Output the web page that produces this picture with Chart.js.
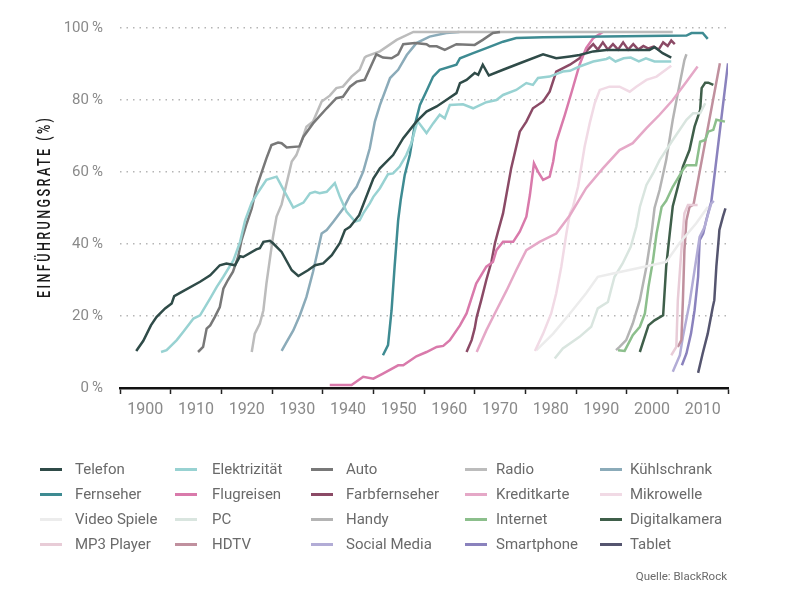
<!DOCTYPE html>
<html lang="de">
<head>
  <meta charset="UTF-8">
  <title>Einführungsrate neuer Technologien</title>
  <script src="https://cdn.jsdelivr.net/npm/chart.js"></script>
  <style>
    body { margin: 0; background: #fff; }
    #wrap { position: relative; width: 807px; height: 611px; font-family: Roboto, "Noto Sans", sans-serif; }
    #legend .sw { position: absolute; width: 22px; height: 3px; }
    #legend .lb { position: absolute; font-size: 15px; color: #6a6a6a; line-height: 18px; white-space: nowrap; }
    #source { position: absolute; right: 80px; top: 569px; font-size: 11.5px; color: #6a6a6a; }
  </style>
</head>
<body>
  <div id="wrap">
    <canvas id="chart" width="807" height="611"></canvas>
    <div id="legend"></div>
    <div id="source">Quelle: BlackRock</div>
  </div>

  <script>
    const telefon = [[1898.2,10.3],[1899.6,13.1],[1901.1,17.4],[1902.2,19.7],[1903.9,22.1],[1905.2,23.5],[1905.7,25.5],[1907.2,26.7],[1910.8,29.5],[1912.8,31.3],[1914.7,34.1],[1916.0,34.6],[1917.7,34.1],[1918.7,36.6],[1919.3,36.4],[1921.9,38.5],[1922.6,38.8],[1923.3,40.6],[1924.6,40.9],[1925.2,40.2],[1926.9,37.8],[1928.9,32.7],[1930.2,31.1],[1932.1,32.7],[1933.5,34.1],[1935.1,34.6],[1936.8,36.9],[1938.4,40.3],[1939.4,43.9],[1940.4,44.8],[1942.2,48.0],[1945.0,58.2],[1946.3,61.0],[1948.9,64.7],[1950.9,69.4],[1953.5,74.0],[1955.5,76.8],[1957.5,78.2],[1959.4,80.0],[1961.4,81.9],[1962.1,84.7],[1963.4,85.6],[1965.0,87.5],[1965.7,87.0],[1966.6,89.8],[1967.8,86.8],[1970.6,88.4],[1973.9,90.2],[1978.5,92.7],[1981.1,91.6],[1983.8,92.1],[1985.7,92.5],[1988.4,93.5],[1991.0,93.9],[1999.5,93.9],[2000.5,94.7],[2002.1,93.0],[2003.8,91.8]];
    const elektrizitaet = [[1903.1,10.0],[1904.2,10.5],[1906.2,13.3],[1907.5,15.6],[1909.5,19.3],[1910.8,20.2],[1912.8,24.9],[1914.1,28.1],[1915.4,30.9],[1917.4,35.5],[1918.7,40.6],[1919.7,46.6],[1921.0,51.5],[1921.9,53.6],[1923.9,57.8],[1925.9,58.7],[1927.5,54.5],[1929.2,50.1],[1931.2,51.5],[1932.5,54.1],[1933.5,54.5],[1934.4,54.1],[1935.8,54.5],[1937.4,56.9],[1938.4,53.1],[1939.7,49.0],[1941.4,46.2],[1942.3,46.6],[1943.0,48.5],[1944.3,51.3],[1945.0,53.1],[1946.3,55.5],[1947.9,59.4],[1948.9,59.6],[1950.2,61.5],[1951.5,64.7],[1952.5,68.0],[1953.5,73.1],[1953.8,74.0],[1955.5,70.8],[1956.8,73.5],[1958.1,75.9],[1959.1,74.9],[1960.1,78.6],[1962.7,78.8],[1964.7,77.7],[1967.3,79.4],[1969.3,80.0],[1970.6,81.4],[1973.2,82.8],[1975.2,84.7],[1976.5,84.2],[1977.5,86.1],[1979.8,86.5],[1982.4,87.9],[1983.8,88.1],[1985.7,89.3],[1988.4,90.7],[1991.0,91.4],[1991.6,91.8],[1992.8,90.7],[1994.4,91.6],[1995.8,91.8],[1997.4,90.7],[1998.8,91.6],[2000.5,90.7],[2003.8,90.7]];
    const auto = [[1910.4,10.0],[1911.4,11.4],[1912.1,16.5],[1912.8,17.4],[1913.7,19.7],[1914.7,22.5],[1915.4,27.6],[1916.3,30.0],[1917.3,32.3],[1918.3,36.4],[1919.0,41.1],[1920.0,45.7],[1921.0,49.9],[1921.9,55.5],[1923.9,63.8],[1924.9,67.5],[1926.2,68.2],[1926.9,68.0],[1927.9,66.8],[1930.4,67.1],[1931.2,69.8],[1933.1,73.5],[1935.8,77.7],[1937.7,80.5],[1939.0,80.9],[1940.4,83.7],[1941.7,85.1],[1943.3,85.6],[1945.6,92.7],[1946.9,91.8],[1948.6,91.6],[1949.9,92.7],[1950.9,95.5],[1953.2,95.8],[1955.5,95.5],[1956.1,94.9],[1957.5,94.9],[1959.1,93.9],[1961.4,95.5],[1965.0,95.3],[1966.6,96.7],[1968.6,98.6],[1970.0,98.9]];
    const radio = [[1921.0,10.0],[1921.6,15.1],[1922.6,17.9],[1923.3,21.6],[1923.9,29.0],[1924.6,36.0],[1925.2,42.0],[1925.9,47.6],[1926.9,51.0],[1928.9,62.9],[1929.8,64.7],[1930.8,68.4],[1931.8,72.6],[1933.1,74.0],[1934.8,79.6],[1936.4,81.2],[1937.7,83.3],[1939.0,83.7],[1940.7,86.5],[1942.3,88.4],[1943.3,91.8],[1943.6,92.1],[1946.3,93.5],[1949.6,96.7],[1952.9,98.9],[2004.1,98.9]];
    const kuehlschrank = [[1926.9,10.3],[1927.9,12.8],[1929.2,16.0],[1930.5,20.2],[1931.8,25.3],[1933.1,32.3],[1934.8,42.9],[1935.8,43.9],[1937.1,46.2],[1939.1,49.9],[1940.4,53.5],[1941.7,55.9],[1943.0,60.1],[1944.3,66.6],[1945.3,74.0],[1946.3,78.6],[1948.3,86.1],[1949.9,88.4],[1951.6,92.5],[1953.5,95.8],[1956.1,97.6],[1959.4,98.6],[1962.0,98.9]];
    const fernseher = [[1946.9,9.1],[1947.9,11.9],[1948.6,21.6],[1949.2,33.7],[1949.9,46.6],[1950.4,52.2],[1951.2,59.2],[1952.2,64.7],[1953.2,73.1],[1954.2,78.6],[1955.5,82.5],[1956.8,86.5],[1958.1,88.4],[1961.4,89.8],[1962.1,91.6],[1964.7,93.0],[1967.3,94.4],[1970.6,96.2],[1973.2,97.2],[1978.5,97.4],[2006.8,97.9],[2007.8,98.6],[2010.0,98.6],[2011.0,97.0]];
    const flugreisen = [[1936.4,0.8],[1940.7,0.8],[1943.0,3.1],[1945.0,2.6],[1946.9,4.0],[1949.9,6.3],[1950.9,6.3],[1953.5,8.8],[1955.5,10.0],[1957.5,11.4],[1958.8,11.7],[1960.1,13.3],[1962.1,17.4],[1963.4,20.7],[1965.3,29.0],[1967.3,33.7],[1968.6,35.0],[1969.3,38.3],[1970.6,40.6],[1972.6,40.6],[1973.9,43.4],[1975.2,47.6],[1975.9,53.6],[1976.7,62.4],[1977.5,60.1],[1978.5,57.8],[1979.8,58.7],[1980.5,62.9],[1981.1,68.4],[1982.8,75.9],[1984.2,82.5],[1985.7,89.8],[1987.0,94.4],[1988.4,97.2],[1990.3,98.9]];
    const farbfernseher = [[1963.4,10.0],[1964.4,13.3],[1965.0,16.5],[1965.4,19.7],[1966.3,24.4],[1967.3,30.0],[1968.3,35.0],[1969.0,40.2],[1969.6,43.4],[1970.6,48.5],[1972.2,61.0],[1973.9,71.2],[1975.2,74.0],[1976.5,77.7],[1978.5,79.6],[1979.8,82.3],[1981.1,87.9],[1983.8,89.8],[1985.7,91.6],[1988.4,95.5],[1989.3,94.0],[1990.3,96.0],[1991.3,94.0],[1992.3,95.5],[1993.3,94.0],[1994.3,96.0],[1995.3,94.0],[1996.3,95.5],[1997.3,94.0],[1998.3,95.0],[1999.3,94.3],[2000.3,94.8],[2001.3,94.0],[2002.2,96.0],[2003.1,95.0],[2003.8,96.5],[2004.5,95.5]];
    const kreditkarte = [[1965.4,10.0],[1967.3,16.0],[1969.3,21.6],[1971.3,27.1],[1973.2,32.7],[1975.2,38.3],[1977.8,40.6],[1981.1,42.9],[1983.8,48.0],[1987.0,55.5],[1990.3,61.0],[1993.6,66.1],[1996.2,68.0],[1998.9,72.2],[2001.5,75.9],[2004.1,80.0],[2006.8,85.1],[2009.0,89.3]];
    const mikrowelle = [[1976.9,10.3],[1978.5,15.1],[1980.1,20.7],[1981.1,26.3],[1982.1,33.7],[1983.1,42.9],[1983.8,48.5],[1984.4,50.3],[1985.4,55.9],[1986.7,67.0],[1987.7,73.5],[1988.7,79.1],[1989.7,82.8],[1991.6,83.7],[1993.6,83.7],[1995.6,82.3],[1996.9,83.7],[1998.9,85.6],[2000.9,86.5],[2003.8,89.5]];
    const videoSpiele = [[1977.2,10.5],[1980.5,15.1],[1983.8,20.7],[1987.0,26.3],[1989.3,30.9],[1992.3,31.8],[1996.9,33.2],[2002.8,35.0],[2005.4,40.2],[2008.7,45.7],[2011.0,50.3]];
    const pc = [[1980.8,8.2],[1982.4,11.0],[1985.7,14.2],[1988.0,17.0],[1989.3,22.1],[1991.3,23.9],[1991.9,27.2],[1992.6,30.9],[1994.2,34.6],[1995.8,39.2],[1996.9,44.8],[1997.6,50.3],[1998.9,56.4],[2000.2,59.6],[2001.5,63.3],[2004.1,68.9],[2006.8,74.5],[2008.1,76.3],[2009.5,76.3],[2010.5,79.1]];
    const handy = [[1992.9,10.5],[1993.6,11.4],[1994.9,13.3],[1996.2,17.9],[1997.6,24.4],[1998.9,33.7],[1999.9,42.9],[2000.5,50.0],[2001.5,55.0],[2002.8,63.3],[2004.1,74.5],[2005.1,81.9],[2006.4,91.1],[2006.8,92.7]];
    const internet = [[1993.3,10.5],[1994.6,10.3],[1996.2,14.7],[1997.6,17.0],[1998.6,20.7],[1999.3,28.1],[2000.2,35.5],[2000.9,42.9],[2001.9,50.3],[2002.8,52.0],[2004.1,55.9],[2006.1,60.6],[2006.8,61.9],[2008.7,61.9],[2009.5,68.4],[2010.5,68.9],[2011.1,71.2],[2012.1,71.7],[2012.7,74.5],[2014.4,74.0]];
    const digitalkamera = [[1997.6,10.0],[1999.3,17.4],[2000.5,18.8],[2002.2,20.2],[2002.8,33.7],[2003.5,42.9],[2004.1,50.5],[2005.1,55.9],[2006.1,61.5],[2007.4,66.1],[2008.4,72.6],[2009.5,77.2],[2009.8,83.3],[2010.5,84.8],[2011.1,84.8],[2012.1,84.2]];
    const mp3Player = [[2003.8,9.1],[2004.8,11.4],[2005.1,24.4],[2005.8,38.3],[2006.4,48.5],[2007.1,50.8],[2009.0,50.8]];
    const hdtv = [[2005.1,11.4],[2005.8,13.3],[2006.1,24.4],[2006.4,38.3],[2006.8,46.6],[2007.4,50.3],[2008.2,51.0],[2013.4,90.2]];
    const socialMedia = [[2004.1,4.5],[2004.8,6.8],[2005.5,9.1],[2006.1,14.2],[2007.4,23.5],[2008.7,35.5],[2009.4,42.0],[2010.4,44.8],[2011.1,48.5],[2011.7,51.3],[2012.2,52.0]];
    const smartphone = [[2005.9,6.3],[2006.8,9.6],[2007.7,15.1],[2008.4,21.6],[2009.1,30.9],[2009.4,41.1],[2010.1,42.9],[2010.7,46.6],[2011.4,50.3],[2011.7,51.7],[2015.0,90.2]];
    const tablet = [[2009.1,4.2],[2010.0,9.6],[2011.0,15.1],[2012.0,22.5],[2012.3,24.4],[2012.7,33.7],[2013.2,42.0],[2013.3,43.9],[2014.0,47.6],[2014.5,49.9]];

    const names = ['Telefon', 'Elektrizität', 'Auto', 'Radio', 'Kühlschrank',
                   'Fernseher', 'Flugreisen', 'Farbfernseher', 'Kreditkarte', 'Mikrowelle',
                   'Video Spiele', 'PC', 'Handy', 'Internet', 'Digitalkamera',
                   'MP3 Player', 'HDTV', 'Social Media', 'Smartphone', 'Tablet'];
    const series = [telefon, elektrizitaet, auto, radio, kuehlschrank,
                    fernseher, flugreisen, farbfernseher, kreditkarte, mikrowelle,
                    videoSpiele, pc, handy, internet, digitalkamera,
                    mp3Player, hdtv, socialMedia, smartphone, tablet];
    const colors = ['#2f4b48', '#98d2d2', '#787878', '#bcbcbc', '#8babb9',
                    '#3e8b92', '#d97aab', '#8b4a66', '#e5a8c7', '#f1dae5',
                    '#ececec', '#d9e5df', '#b4b4b4', '#8cbf8c', '#3f5f4a',
                    '#e8ccd7', '#c0909e', '#b2acd6', '#8a82bd', '#55556f'];
    const yTicks = [0, 20, 40, 60, 80, 100];
    const xMin = 1895, xMax = 2015;

    const datasets = names.map((name, i) => ({
      label: name,
      data: series[i].map(p => ({ x: p[0], y: p[1] })),
      borderColor: colors[i],
      backgroundColor: colors[i],
      borderWidth: 2.5,
      pointRadius: 0,
      tension: 0,
      fill: false
    }));

    // vertical axis title: condensed, spaced out to ~180px
    const yTitle = {
      id: 'yTitle',
      afterDraw(chart) {
        const c = chart.ctx;
        const area = chart.chartArea;
        const text = 'EINFÜHRUNGSRATE (%)';
        const squeeze = 0.7;
        c.save();
        c.font = '500 18px Roboto, sans-serif';
        c.letterSpacing = '0px';
        const w = c.measureText(text).width * squeeze;
        const gap = Math.max(0, (180 - w) / (text.length - 1)) / squeeze;
        c.letterSpacing = gap + 'px';
        c.translate(45, (area.top + area.bottom) / 2);
        c.rotate(-Math.PI / 2);
        c.scale(squeeze, 1);
        c.fillStyle = '#1a1a1a';
        c.textAlign = 'center';
        c.textBaseline = 'middle';
        c.fillText(text, gap / 2, 0);
        c.restore();
      }
    };

    const ctx = document.getElementById('chart').getContext('2d');
    const chart = new Chart(ctx, {
      type: 'line',
      data: { datasets: datasets },
      options: {
        responsive: false,
        animation: false,
        layout: { padding: { top: 28, right: 79, bottom: 193, left: 0 } },
        plugins: {
          legend: { display: false },
          tooltip: { enabled: false }
        },
        scales: {
          x: {
            type: 'linear',
            min: xMin,
            max: xMax,
            afterFit: s => { s.height = 30; },
            ticks: {
              stepSize: 5,
              autoSkip: false,
              maxRotation: 0,
              padding: 6,
              color: '#8a8a8a',
              font: { family: 'Roboto', size: 16 },
              callback: v => (Math.round(v) % 10 === 0 ? String(Math.round(v)) : '')
            },
            grid: {
              drawOnChartArea: false,
              drawTicks: true,
              tickLength: 6,
              tickWidth: 1.5,
              tickColor: c => (Math.round(c.tick.value) % 10 === 5 ? '#222' : 'rgba(0,0,0,0)')
            },
            border: { display: true, color: '#111', width: 2.5 }
          },
          y: {
            min: 0,
            max: 100,
            afterFit: s => { s.width = 120; },
            afterBuildTicks: s => { s.ticks = yTicks.map(v => ({ value: v })); },
            ticks: {
              padding: 17,
              color: '#8a8a8a',
              font: { family: 'Roboto', size: 15 },
              callback: v => v + '\u2009%'
            },
            grid: {
              drawTicks: false,
              lineWidth: 1.5,
              color: c => (c.tick && c.tick.value === 0 ? 'rgba(0,0,0,0)' : '#b5b5b5')
            },
            border: { display: false, dash: [1.5, 5] }
          }
        }
      },
      plugins: [yTitle]
    });

    // legend in 5 columns, built from the chart's datasets
    const swatchX = [40, 175, 311, 465, 600];
    const textX = [75, 212, 346, 496, 630];
    const rowY = [469, 494, 519, 544];
    const legend = document.getElementById('legend');
    chart.data.datasets.forEach((ds, i) => {
      const col = i % 5, row = Math.floor(i / 5);
      const sw = document.createElement('div');
      sw.className = 'sw';
      sw.style.left = swatchX[col] + 'px';
      sw.style.top = (rowY[row] - 1.5) + 'px';
      sw.style.background = ds.borderColor;
      const lb = document.createElement('div');
      lb.className = 'lb';
      lb.style.left = textX[col] + 'px';
      lb.style.top = (rowY[row] - 9) + 'px';
      lb.textContent = ds.label;
      legend.appendChild(sw);
      legend.appendChild(lb);
    });
  </script>
</body>
</html>
